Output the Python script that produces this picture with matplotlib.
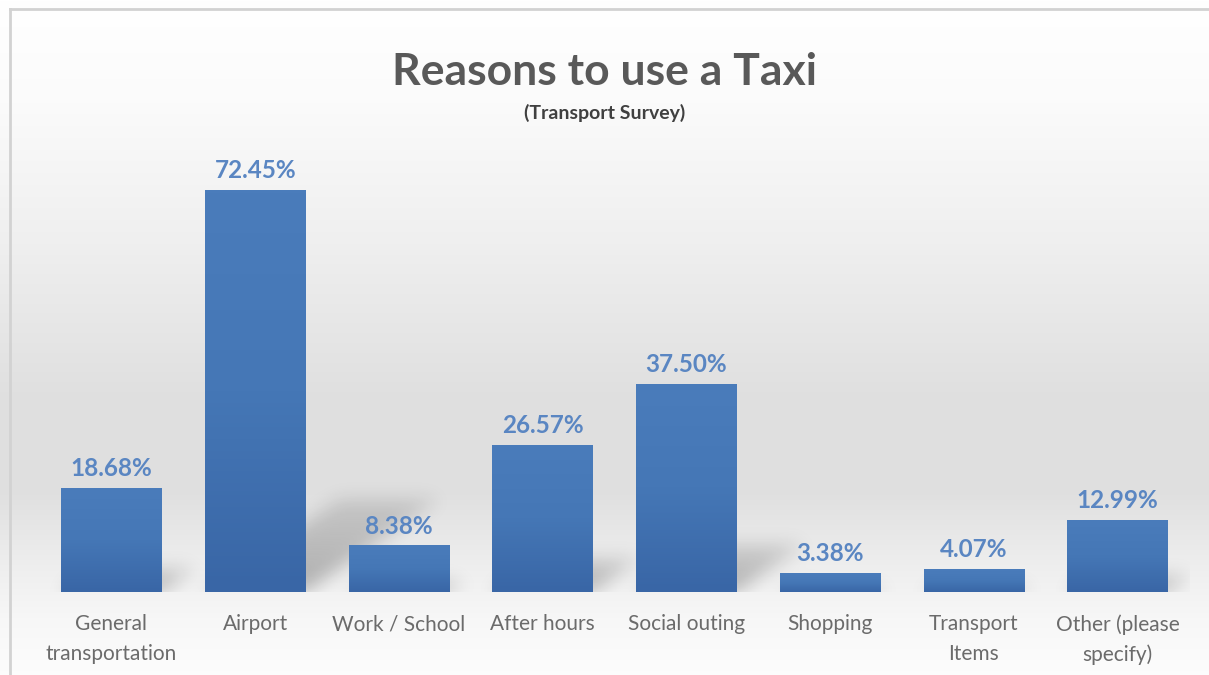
import numpy as np
import matplotlib
matplotlib.use("Agg")
import matplotlib.pyplot as plt
from matplotlib.colors import LinearSegmentedColormap
from matplotlib.lines import Line2D

# ---- data ----
categories = ["General\ntransportation", "Airport", "Work / School", "After hours",
              "Social outing", "Shopping", "Transport\nItems", "Other (please\nspecify)"]
values = [18.68, 72.45, 8.38, 26.57, 37.50, 3.38, 4.07, 12.99]
labels = ["18.68%", "72.45%", "8.38%", "26.57%", "37.50%", "3.38%", "4.07%", "12.99%"]
title = "Reasons to use a Taxi"
subtitle = "(Transport Survey)"

FONT = ["Lato", "DejaVu Sans"]
W, H = 1209, 675
fig = plt.figure(figsize=(W / 100, H / 100), dpi=100)

# ---- background gradient (pixel exact) ----
ys = np.array([0, 100, 250, 400, 490, 560, 620, 675])
vs = np.array([1.0, 0.985, 0.935, 0.875, 0.875, 0.93, 0.97, 0.99])
grad = np.interp(np.arange(H), ys, vs)
img = np.repeat(grad[:, None], W, axis=1)
fig.figimage(np.dstack([img, img, img]), xo=0, yo=0, origin="upper", zorder=-10)
fig.add_artist(Line2D([9.5 / W, 9.5 / W], [0, 1 - 8.5 / H], color="#d2d2d2", lw=2,
                      transform=fig.transFigure))
fig.add_artist(Line2D([9.5 / W, 1], [1 - 8.5 / H, 1 - 8.5 / H], color="#d2d2d2", lw=2,
                      transform=fig.transFigure))

# ---- main axes ----
left, right = 39.6, 1189.4
top_px, base_px = 148, 592
ax = fig.add_axes([left / W, (H - base_px) / H, (right - left) / W, (base_px - top_px) / H])
ax.set_facecolor("none")
n = len(values)
x = np.arange(n)
bw = 0.70

# soft perspective shadows
nx, ny = 1150, 444
gx = np.linspace(-0.5, n - 0.5, nx)
gy = np.linspace(0, 80, ny)
GX, GY = np.meshgrid(gx, gy)
mask = np.zeros_like(GX)
for xi, v in zip(x, values):
    sh = 0.23 * v
    dx = 0.0128 * v
    t = np.clip(GY / sh, 0, None)
    inside = (GY <= sh) & (GX >= xi - bw / 2 + dx * t) & (GX <= xi + bw / 2 + dx * t)
    mask = np.maximum(mask, inside * (1 - 0.55 * t))
k = np.exp(-0.5 * (np.arange(-30, 31) / 9.0) ** 2)
k /= k.sum()
blur = np.apply_along_axis(lambda r: np.convolve(r, k, "same"), 1, mask)
blur = np.apply_along_axis(lambda c: np.convolve(c, k, "same"), 0, blur)
rgba = np.zeros((ny, nx, 4))
rgba[..., 3] = blur * 0.28
ax.imshow(rgba, extent=[-0.5, n - 0.5, 0, 80], origin="lower", aspect="auto", zorder=1)

# bars with vertical gradient
bar_cmap = LinearSegmentedColormap.from_list("b", ["#3966a6", "#4577b6", "#4a7cbb"])
bars = ax.bar(x, values, width=bw, color="#4372b2", zorder=2, linewidth=0)
gradimg = np.linspace(0, 1, 100)[:, None]
for b in bars:
    x0, w, h = b.get_x(), b.get_width(), b.get_height()
    im = ax.imshow(gradimg, extent=[x0, x0 + w, 0, h], origin="lower", cmap=bar_cmap,
                   aspect="auto", zorder=3)
    im.set_clip_path(b)

for xi, v, lab in zip(x, values, labels):
    ax.annotate(lab, (xi, v), xytext=(0, 14), textcoords="offset points",
                ha="center", va="center", fontsize=17.5, fontweight="bold",
                color="#5a86c2", family=FONT, zorder=5)

ax.set_xticks(x)
ax.set_xticklabels(categories, fontsize=15, color="#6b6b6b", family=FONT, linespacing=1.6)
ax.tick_params(axis="x", length=0, pad=16)
ax.set_yticks([])
for s in ax.spines.values():
    s.set_visible(False)

fig.text(0.5, 1 - 72 / H, title, ha="center", va="center", fontsize=32,
         fontweight="bold", color="#595959", family=FONT)
fig.text(0.5, 1 - 113 / H, subtitle, ha="center", va="center", fontsize=14,
         fontweight="bold", color="#404040", family=FONT)

ax.set_xlim(-0.5, n - 0.5)
ax.set_ylim(0, 80)
fig.savefig("out.png", dpi=100)
